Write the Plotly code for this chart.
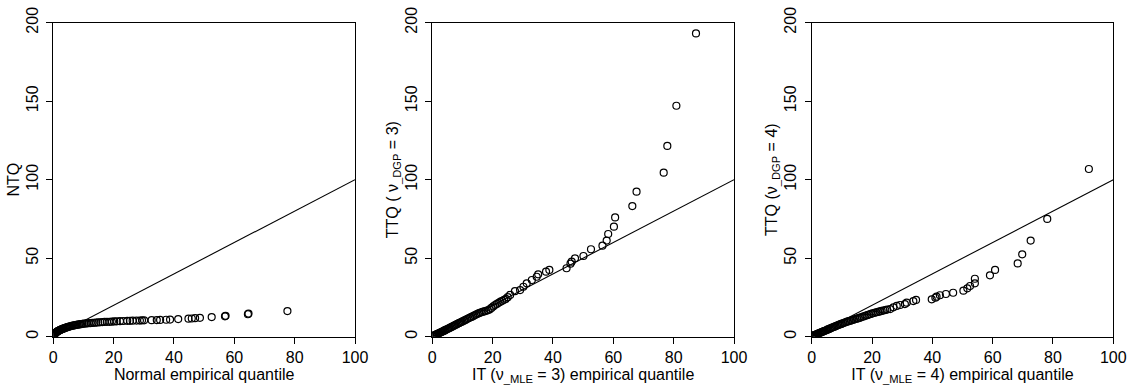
import plotly.graph_objects as go

# ---------------- data ----------------
# Panel 1: Normal empirical quantile vs NTQ
p1_x = [0.05, 0.15, 0.25, 0.35, 0.5, 0.6, 0.75, 0.9, 1.05, 1.2, 1.35, 1.5, 1.7, 1.9, 2.1, 2.3, 2.5, 2.75,
        3.0, 3.25, 3.5, 3.8, 4.1, 4.4, 4.7, 5.0, 5.3, 5.6, 6.0, 6.4, 6.8, 7.2, 7.6, 8.0, 8.4, 8.8, 9.2,
        9.7, 10.2, 10.7, 11.2, 11.8, 12.4, 13.0, 13.6, 14.2, 14.9, 15.6, 16.3, 17.0, 17.8, 18.6, 19.4,
        20.2, 21.0, 22.1, 23.2, 24.5, 25.4, 26.3, 27.6, 28.7, 29.4, 30.1,
        32.6, 34.3, 35.4, 37.4, 38.7, 41.4, 44.8, 45.9, 47.0, 48.6, 52.5, 56.9, 57.1, 64.5, 64.7, 77.6]
p1_y = [0.4, 0.9, 1.3, 1.6, 1.9, 2.1, 2.4, 2.7, 2.9, 3.1, 3.3, 3.5, 3.7, 3.9, 4.1, 4.3, 4.5, 4.7,
        4.9, 5.1, 5.3, 5.5, 5.7, 5.9, 6.1, 6.3, 6.5, 6.6, 6.8, 7.0, 7.2, 7.3, 7.5, 7.6, 7.8, 7.9, 8.0,
        8.2, 8.3, 8.4, 8.5, 8.6, 8.7, 8.8, 8.9, 9.0, 9.1, 9.2, 9.3, 9.4, 9.5, 9.5, 9.6,
        9.7, 9.8, 9.9, 10.0, 10.1, 10.1, 10.2, 10.3, 10.3, 10.4, 10.4,
        10.5, 10.6, 10.7, 10.8, 10.9, 11.2, 11.5, 11.6, 11.8, 12.0, 12.5, 13.0, 13.3, 14.3, 14.7, 16.3]

# Panel 2: IT (nu_MLE = 3) empirical quantile vs TTQ (nu_DGP = 3)
p2_x = [0.05, 0.2, 0.4, 0.6, 0.8, 1.0, 1.25, 1.5, 1.75, 2.0, 2.3, 2.6, 2.9, 3.2, 3.5, 3.8, 4.1, 4.4,
        4.8, 5.2, 5.6, 6.0, 6.4, 6.8, 7.2, 7.6, 8.0, 8.4, 8.8, 9.2, 9.6, 10.0, 10.5, 11.0, 11.5, 12.0,
        12.5, 13.0, 13.5, 14.0, 14.5, 15.0, 15.5, 16.0, 16.6, 17.2, 17.8, 18.4, 19.0, 19.6, 20.2, 20.8,
        21.4, 22.0, 22.6, 23.2, 23.8, 24.4, 25.0, 25.8,
        27.4, 29.1, 30.2, 31.3, 33.0, 34.6, 35.1, 37.7, 38.8, 44.5, 45.8, 46.2, 47.3, 50.1, 52.6,
        56.4, 57.8, 58.3, 60.2, 60.6, 66.3, 67.7, 76.7, 77.9, 80.9, 87.4]
p2_y = [0.3, 0.5, 0.6, 0.8, 0.9, 1.1, 1.3, 1.5, 1.8, 2.0, 2.3, 2.6, 2.8, 3.1, 3.4, 3.7, 4.0, 4.3,
        4.7, 5.0, 5.4, 5.8, 6.2, 6.6, 7.0, 7.4, 7.8, 8.2, 8.6, 9.0, 9.3, 9.7, 10.2, 10.7, 11.2, 11.7,
        12.2, 12.6, 13.1, 13.6, 14.1, 14.6, 15.0, 15.4, 15.8, 16.1, 16.5, 16.8, 17.4, 18.3, 19.3, 20.2,
        20.9, 21.6, 22.3, 22.9, 23.5, 24.1, 25.2, 26.6,
        29.0, 29.7, 31.8, 34.0, 36.1, 38.2, 39.7, 41.4, 42.5, 43.6, 46.5, 47.8, 49.9, 51.4, 55.7,
        58.0, 61.2, 65.4, 70.1, 76.0, 83.2, 92.4, 104.5, 121.5, 147.1, 193.2]

# Panel 3: IT (nu_MLE = 4) empirical quantile vs TTQ (nu_DGP = 4)
p3_x = [0.05, 0.2, 0.4, 0.6, 0.8, 1.0, 1.25, 1.5, 1.75, 2.0, 2.3, 2.6, 2.9, 3.2, 3.5, 3.8, 4.1, 4.4,
        4.8, 5.2, 5.6, 6.0, 6.4, 6.8, 7.2, 7.6, 8.0, 8.4, 8.8, 9.2, 9.6, 10.0, 10.5, 11.0, 11.5, 12.0,
        12.5, 13.0, 13.5, 14.0, 14.5, 15.0, 15.5, 16.0, 16.6, 17.2, 17.8, 18.4, 19.0, 19.6, 20.2, 20.8,
        21.4, 22.0, 22.6, 23.2, 23.8, 24.4, 25.0, 26.0, 27.1, 28.2, 29.3, 30.9, 31.5, 33.7, 34.6,
        39.8, 41.0, 41.4, 42.5, 44.5, 46.9, 50.3, 51.6, 52.5, 54.1, 54.1, 59.1, 60.8, 68.3, 69.8,
        72.6, 78.1, 91.9]
p3_y = [0.2, 0.4, 0.5, 0.7, 0.8, 1.0, 1.2, 1.4, 1.6, 1.8, 2.1, 2.3, 2.6, 2.8, 3.1, 3.3, 3.6, 3.8,
        4.1, 4.5, 4.8, 5.1, 5.5, 5.8, 6.1, 6.4, 6.8, 7.1, 7.4, 7.7, 8.0, 8.3, 8.7, 9.0, 9.4, 9.7,
        10.0, 10.3, 10.6, 10.9, 11.2, 11.5, 11.8, 12.1, 12.5, 12.9, 13.3, 13.7, 14.1, 14.5, 14.9, 15.2,
        15.5, 15.8, 16.1, 16.4, 16.7, 17.0, 17.3, 17.6, 18.7, 19.6, 20.2, 20.8, 21.7, 22.7, 23.4,
        23.8, 24.8, 25.5, 26.4, 27.2, 28.0, 29.3, 30.8, 32.3, 34.0, 36.9, 39.1, 42.5, 46.7, 52.5,
        61.2, 75.0, 106.8]

# 45-degree reference line
ref_x = [0, 100]
ref_y = [0, 100]

x_ticks = [0, 20, 40, 60, 80, 100]
y_ticks = [0, 50, 100, 150, 200]

x_titles = ["Normal empirical quantile",
            "IT (ν<sub>_MLE</sub> = 3) empirical quantile",
            "IT (ν<sub>_MLE</sub> = 4) empirical quantile"]
y_titles = ["NTQ",
            "TTQ ( ν<sub>_DGP</sub> = 3)",
            "TTQ (ν<sub>_DGP</sub> = 4)"]

# ---------------- figure ----------------
W, H = 1128, 385
FONT = "Liberation Sans, Arial, Helvetica, sans-serif"
FS = 16
panels_px = [(53.3, 355.0), (432.3, 734.0), (811.7, 1113.3)]
y_bottom_px, y_top_px = 336.7, 22.7

fig = go.Figure()
data = [(p1_x, p1_y), (p2_x, p2_y), (p3_x, p3_y)]

layout = dict(
    width=W, height=H,
    margin=dict(l=0, r=0, t=0, b=0, autoexpand=False),
    paper_bgcolor="white", plot_bgcolor="white",
    showlegend=False,
    font=dict(family=FONT, size=FS, color="black"),
)

for i, ((xs, ys), (l_px, r_px)) in enumerate(zip(data, panels_px)):
    n = "" if i == 0 else str(i + 1)
    xa, ya = "x" + n, "y" + n
    fig.add_trace(go.Scatter(x=ref_x, y=ref_y, mode="lines",
                             line=dict(color="black", width=1.1),
                             xaxis=xa, yaxis=ya, hoverinfo="skip"))
    fig.add_trace(go.Scatter(x=xs, y=ys, mode="markers",
                             marker=dict(symbol="circle-open", size=7,
                                         color="black", line=dict(width=1.2, color="black")),
                             xaxis=xa, yaxis=ya))
    common = dict(showgrid=False, zeroline=False, showline=True, linecolor="black",
                  linewidth=1, mirror=True, ticks="outside", ticklen=6, tickwidth=1,
                  tickcolor="black", automargin=False,
                  tickfont=dict(family=FONT, size=FS, color="black"))
    layout["xaxis" + n] = dict(
        domain=[l_px / W, r_px / W], range=[0, 100], tickvals=x_ticks,
        anchor=ya, title=dict(text=x_titles[i], standoff=2,
                              font=dict(family=FONT, size=FS, color="black")),
        **common)
    layout["yaxis" + n] = dict(
        domain=[(H - y_bottom_px) / H, (H - y_top_px) / H], range=[0, 200], tickvals=y_ticks,
        anchor=xa, tickangle=-90, ticklabelstandoff=2,
        title=dict(text=y_titles[i], standoff=0,
                   font=dict(family=FONT, size=FS, color="black")),
        **common)

fig.update_layout(**layout)
fig.write_html("out.html")
